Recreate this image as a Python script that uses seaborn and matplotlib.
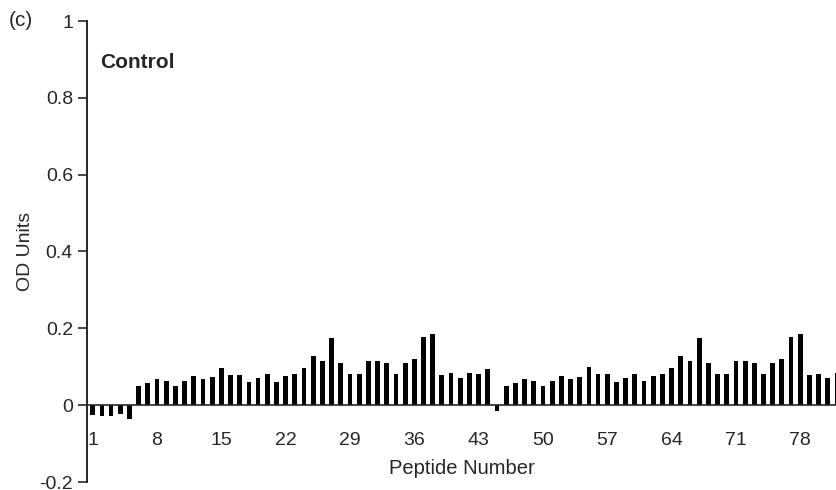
import seaborn as sns
import pandas as pd
import numpy as np
import matplotlib.pyplot as plt

peptide = list(range(1, 83))
od_units = [-0.025, -0.027, -0.027, -0.023, -0.036, 0.049, 0.057, 0.067, 0.062, 0.051,
            0.064, 0.075, 0.068, 0.073, 0.098, 0.079, 0.079, 0.060, 0.071, 0.080,
            0.061, 0.075, 0.080, 0.098, 0.128, 0.114, 0.176, 0.110, 0.082, 0.081,
            0.116, 0.114, 0.110, 0.082, 0.111, 0.121, 0.178, 0.184, 0.079, 0.083,
            0.072, 0.083, 0.080, 0.093, -0.014, 0.050, 0.057, 0.067, 0.063, 0.051,
            0.064, 0.076, 0.068, 0.074, 0.099, 0.080, 0.080, 0.061, 0.071, 0.080,
            0.062, 0.075, 0.081, 0.098, 0.128, 0.114, 0.176, 0.111, 0.082, 0.081,
            0.116, 0.115, 0.110, 0.082, 0.110, 0.121, 0.178, 0.184, 0.078, 0.082,
            0.072, 0.083]
x_ticks = [1, 8, 15, 22, 29, 36, 43, 50, 57, 64, 71, 78]
y_ticks = [-0.2, 0, 0.2, 0.4, 0.6, 0.8, 1]
y_labels = ['-0.2', '0', '0.2', '0.4', '0.6', '0.8', '1']

data = pd.DataFrame({'Peptide': peptide, 'OD': od_units})

sns.set_style('ticks')
plt.rcParams['font.family'] = ['Liberation Sans', 'DejaVu Sans']

fig = plt.figure(figsize=(8.37, 4.9), dpi=100)
ax = fig.add_axes([0.1045, 8 / 490, 0.8955, 461 / 490])

sns.barplot(data=data, x='Peptide', y='OD', color='black', width=0.52,
            saturation=1, edgecolor='black', linewidth=0, ax=ax)

ax.set_xlim(-0.57, 81.0)
ax.set_ylim(-0.2, 1)
ax.set_yticks(y_ticks)
ax.set_yticklabels(y_labels)
ax.set_xticks([p - 1 for p in x_ticks])
ax.set_xticklabels([str(p) for p in x_ticks])

ax.spines['top'].set_visible(False)
ax.spines['right'].set_visible(False)
ax.spines['bottom'].set_position(('data', 0))
ax.spines['bottom'].set_linewidth(1.2)
ax.spines['left'].set_linewidth(1.4)
ax.tick_params(axis='y', length=6.5, width=1.2, labelsize=14, pad=4)
ax.tick_params(axis='x', length=0, labelsize=14, pad=19)

ax.set_xlabel('Peptide Number', fontsize=14.5)
ax.xaxis.set_label_coords(0.5, 0.05)
ax.set_ylabel('OD Units', fontsize=14)
ax.yaxis.set_label_coords(-0.072, 0.5)

ax.text(0.0167, 0.909, 'Control', transform=ax.transAxes, fontsize=15,
        fontweight='bold', va='center', ha='left')
fig.text(0.01, 1 - 21 / 490, '(c)', fontsize=15, va='center', ha='left')

fig.savefig('out.png', dpi=100)
